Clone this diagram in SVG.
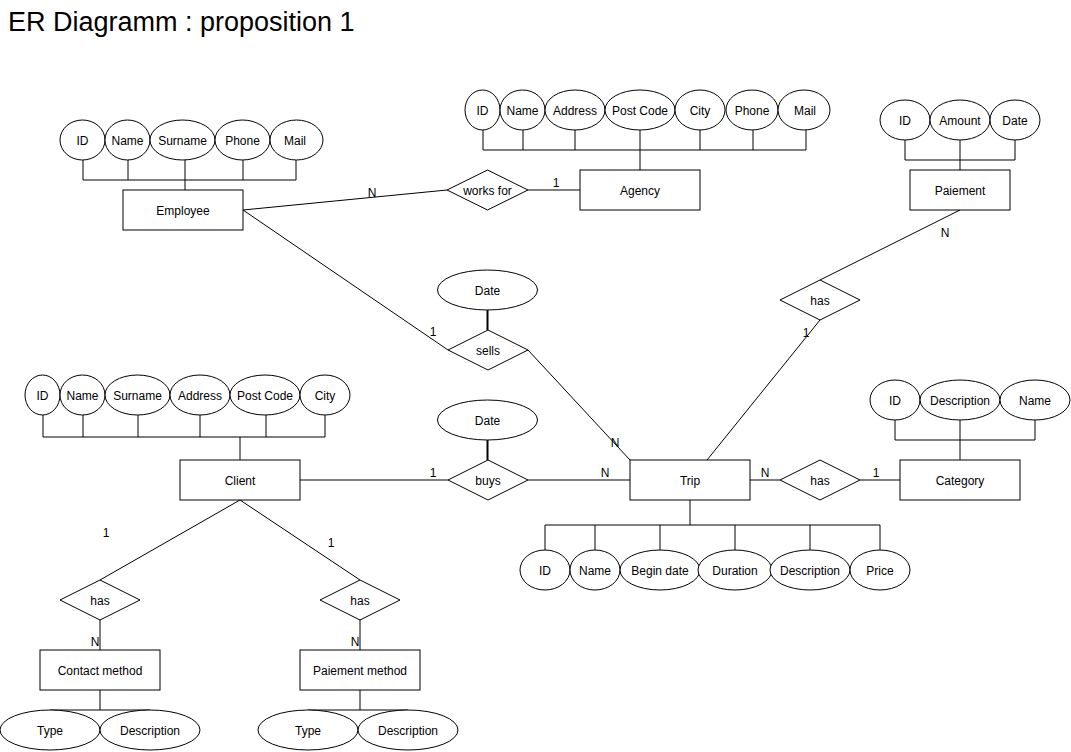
<svg xmlns="http://www.w3.org/2000/svg" width="1071" height="752" viewBox="0 0 1071 752">
  <style>
    text { font-family: "Liberation Sans", Arial, Helvetica, sans-serif; font-size: 12px; fill: #000; text-anchor: middle; transform: translateY(1px); }
    .title { font-size: 27px; text-anchor: start; }
    .ent { fill: #fff; stroke: #000; stroke-width: 1; }
    .attr { fill: #fff; stroke: #000; stroke-width: 1; }
    .rel { fill: #fff; stroke: #000; stroke-width: 1; }
    .link { fill: none; stroke: #000; stroke-width: 1; }
    .thick { fill: none; stroke: #000; stroke-width: 2; }
  </style>
  <rect width="1071" height="752" fill="#fff"/>
  <text class="title" x="8" y="30">ER Diagramm : proposition 1</text>

  <!-- connectors: attribute trees, relationship lines and cardinalities -->
  <g id="connectors">
    <!-- Employee attributes -->
    <path class="link" d="M83 160V180M128 160V180M185 160V190M243 160V180M296 160V180M83 180H296"/>
    <!-- Agency attributes -->
    <path class="link" d="M483 130V150M523 130V150M575 130V150M640 130V170M700 130V150M753 130V150M806 130V150M483 150H806"/>
    <!-- Paiement attributes -->
    <path class="link" d="M905 140V160M960 140V170M1015 140V160M905 160H1015"/>
    <!-- Client attributes -->
    <path class="link" d="M43 415V437M83 415V437M138 415V437M200 415V437M266 415V437M325 415V437M240 437V460M43 437H325"/>
    <!-- Category attributes -->
    <path class="link" d="M895 420V440M960 420V460M1035 420V440M895 440H1035"/>
    <!-- Trip attributes -->
    <path class="link" d="M690 500V525M545 525H880M545 525V550M595 525V550M660 525V550M735 525V550M810 525V550M880 525V550"/>
    <!-- Contact method / Paiement method attributes -->
    <path class="link" d="M100 690V710M50 710H150M360 690V710M308 710H408"/>
    <!-- relationship attributes -->
    <path class="thick" d="M487.5 310V330M487.5 440V460"/>

    <!-- relationships -->
    <line class="link" x1="243" y1="210" x2="447" y2="190"/>
    <line class="link" x1="528" y1="190" x2="580" y2="190"/>
    <line class="link" x1="243" y1="210" x2="448" y2="350"/>
    <line class="link" x1="528" y1="350" x2="630" y2="460"/>
    <line class="link" x1="300" y1="480" x2="448" y2="480"/>
    <line class="link" x1="528" y1="480" x2="630" y2="480"/>
    <line class="link" x1="960" y1="210" x2="820" y2="280"/>
    <line class="link" x1="820" y1="320" x2="707" y2="460"/>
    <line class="link" x1="750" y1="480" x2="780" y2="480"/>
    <line class="link" x1="860" y1="480" x2="900" y2="480"/>
    <line class="link" x1="240" y1="500" x2="100" y2="580"/>
    <line class="link" x1="240" y1="500" x2="360" y2="580"/>
    <line class="link" x1="100" y1="620" x2="100" y2="650"/>
    <line class="link" x1="360" y1="620" x2="360" y2="650"/>

    <!-- cardinalities -->
    <text x="372" y="196">N</text>
    <text x="556" y="186">1</text>
    <text x="433" y="335">1</text>
    <text x="615" y="446">N</text>
    <text x="433" y="476">1</text>
    <text x="605" y="476">N</text>
    <text x="945" y="236">N</text>
    <text x="806" y="336">1</text>
    <text x="765" y="476">N</text>
    <text x="876" y="476">1</text>
    <text x="106" y="536">1</text>
    <text x="331" y="546">1</text>
    <text x="95" y="645">N</text>
    <text x="355" y="645">N</text>
  </g>

  <!-- Employee -->
  <g id="employee">
    <rect class="ent" x="123" y="190" width="120" height="40"/>
    <text x="183" y="214">Employee</text>
  </g>
  <g id="employee-attrs">
    <ellipse class="attr" cx="82.5" cy="140" rx="22.5" ry="20"/><text x="82.5" y="144">ID</text>
    <ellipse class="attr" cx="127.5" cy="140" rx="22.5" ry="20"/><text x="127.5" y="144">Name</text>
    <ellipse class="attr" cx="182.5" cy="140" rx="32.5" ry="20"/><text x="182.5" y="144">Surname</text>
    <ellipse class="attr" cx="242.5" cy="140" rx="27.5" ry="20"/><text x="242.5" y="144">Phone</text>
    <ellipse class="attr" cx="296.5" cy="140" rx="26.5" ry="20"/><text x="295" y="144">Mail</text>
  </g>

  <!-- works for -->
  <g id="works-for">
    <polygon class="rel" points="447,190 487.5,170 528,190 487.5,210"/>
    <text x="487.5" y="194">works for</text>
  </g>

  <!-- Agency -->
  <g id="agency">
    <rect class="ent" x="580" y="170" width="120" height="40"/>
    <text x="640" y="194">Agency</text>
  </g>
  <g id="agency-attrs">
    <ellipse class="attr" cx="482.5" cy="110" rx="17.5" ry="20"/><text x="482.5" y="114">ID</text>
    <ellipse class="attr" cx="522.5" cy="110" rx="22.5" ry="20"/><text x="522.5" y="114">Name</text>
    <ellipse class="attr" cx="575" cy="110" rx="30" ry="20"/><text x="575" y="114">Address</text>
    <ellipse class="attr" cx="640" cy="110" rx="35" ry="20"/><text x="640" y="114">Post Code</text>
    <ellipse class="attr" cx="700" cy="110" rx="25" ry="20"/><text x="700" y="114">City</text>
    <ellipse class="attr" cx="752" cy="110" rx="26" ry="20"/><text x="752" y="114">Phone</text>
    <ellipse class="attr" cx="804" cy="110" rx="26" ry="20"/><text x="805" y="114">Mail</text>
  </g>

  <!-- Paiement -->
  <g id="paiement">
    <rect class="ent" x="910" y="170" width="100" height="40"/>
    <text x="960" y="194">Paiement</text>
  </g>
  <g id="paiement-attrs">
    <ellipse class="attr" cx="905" cy="120" rx="25" ry="20"/><text x="905" y="124">ID</text>
    <ellipse class="attr" cx="960" cy="120" rx="30" ry="20"/><text x="960" y="124">Amount</text>
    <ellipse class="attr" cx="1015" cy="120" rx="25" ry="20"/><text x="1015" y="124">Date</text>
  </g>

  <!-- has (Paiement - Trip) -->
  <g id="has-paiement">
    <polygon class="rel" points="780,300 820,280 860,300 820,320"/>
    <text x="820" y="304">has</text>
  </g>

  <!-- sells -->
  <g id="sells">
    <ellipse class="attr" cx="487.5" cy="290" rx="50" ry="20"/><text x="487.5" y="294">Date</text>
    <polygon class="rel" points="448,350 488,330 528,350 488,370"/>
    <text x="488" y="354">sells</text>
  </g>

  <!-- buys -->
  <g id="buys">
    <ellipse class="attr" cx="487.5" cy="420" rx="50" ry="20"/><text x="487.5" y="424">Date</text>
    <polygon class="rel" points="448,480 488,460 528,480 488,500"/>
    <text x="488" y="484">buys</text>
  </g>

  <!-- Client -->
  <g id="client">
    <rect class="ent" x="180" y="460" width="120" height="40"/>
    <text x="240" y="484">Client</text>
  </g>
  <g id="client-attrs">
    <ellipse class="attr" cx="42.5" cy="395" rx="17.5" ry="20"/><text x="42.5" y="399">ID</text>
    <ellipse class="attr" cx="82.5" cy="395" rx="22.5" ry="20"/><text x="82.5" y="399">Name</text>
    <ellipse class="attr" cx="137.5" cy="395" rx="32.5" ry="20"/><text x="137.5" y="399">Surname</text>
    <ellipse class="attr" cx="200" cy="395" rx="30" ry="20"/><text x="200" y="399">Address</text>
    <ellipse class="attr" cx="265" cy="395" rx="35" ry="20"/><text x="265" y="399">Post Code</text>
    <ellipse class="attr" cx="325" cy="395" rx="25" ry="20"/><text x="325" y="399">City</text>
  </g>

  <!-- Trip -->
  <g id="trip">
    <rect class="ent" x="630" y="460" width="120" height="40"/>
    <text x="690" y="484">Trip</text>
  </g>
  <g id="trip-attrs">
    <ellipse class="attr" cx="545" cy="570" rx="25" ry="20"/><text x="545" y="574">ID</text>
    <ellipse class="attr" cx="595" cy="570" rx="25" ry="20"/><text x="595" y="574">Name</text>
    <ellipse class="attr" cx="660" cy="570" rx="40" ry="20"/><text x="660" y="574">Begin date</text>
    <ellipse class="attr" cx="735" cy="570" rx="37" ry="20"/><text x="735" y="574">Duration</text>
    <ellipse class="attr" cx="810" cy="570" rx="40" ry="20"/><text x="810" y="574">Description</text>
    <ellipse class="attr" cx="880" cy="570" rx="30" ry="20"/><text x="880" y="574">Price</text>
  </g>

  <!-- has (Trip - Category) -->
  <g id="has-category">
    <polygon class="rel" points="780,480 820,460 860,480 820,500"/>
    <text x="820" y="484">has</text>
  </g>

  <!-- Category -->
  <g id="category">
    <rect class="ent" x="900" y="460" width="120" height="40"/>
    <text x="960" y="484">Category</text>
  </g>
  <g id="category-attrs">
    <ellipse class="attr" cx="895" cy="400" rx="25" ry="20"/><text x="895" y="404">ID</text>
    <ellipse class="attr" cx="960" cy="400" rx="40" ry="20"/><text x="960" y="404">Description</text>
    <ellipse class="attr" cx="1035" cy="400" rx="35" ry="20"/><text x="1035" y="404">Name</text>
  </g>

  <!-- has (Client - Contact method) -->
  <g id="has-contact">
    <polygon class="rel" points="60,600 100,580 140,600 100,620"/>
    <text x="100" y="604">has</text>
  </g>

  <!-- Contact method -->
  <g id="contact-method">
    <rect class="ent" x="40" y="650" width="120" height="40"/>
    <text x="100" y="674">Contact method</text>
  </g>
  <g id="contact-method-attrs">
    <ellipse class="attr" cx="50" cy="730" rx="50" ry="20"/><text x="50" y="734">Type</text>
    <ellipse class="attr" cx="150" cy="730" rx="50" ry="20"/><text x="150" y="734">Description</text>
  </g>

  <!-- has (Client - Paiement method) -->
  <g id="has-paiement-method">
    <polygon class="rel" points="320,600 360,580 400,600 360,620"/>
    <text x="360" y="604">has</text>
  </g>

  <!-- Paiement method -->
  <g id="paiement-method">
    <rect class="ent" x="300" y="650" width="120" height="40"/>
    <text x="360" y="674">Paiement method</text>
  </g>
  <g id="paiement-method-attrs">
    <ellipse class="attr" cx="308" cy="730" rx="50" ry="20"/><text x="308" y="734">Type</text>
    <ellipse class="attr" cx="408" cy="730" rx="50" ry="20"/><text x="408" y="734">Description</text>
  </g>
</svg>
